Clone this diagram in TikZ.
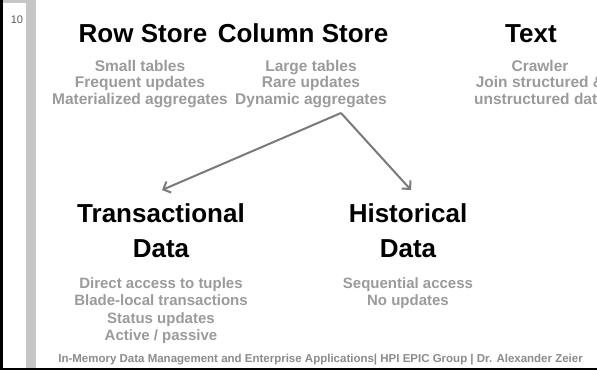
\documentclass[tikz,border=0pt]{standalone}
\usepackage{fontspec}
\setmainfont{Liberation Sans}
\usetikzlibrary{arrows.meta}
\definecolor{subgray}{RGB}{155,155,155}
\definecolor{footgray}{RGB}{140,140,140}
\definecolor{arrowgray}{RGB}{122,122,122}
\definecolor{stripgray}{RGB}{198,198,198}
\definecolor{numgray}{RGB}{90,90,90}
% centred block of lines whose baseline is the first line
\newcommand{\stackedtext}[1]{\begin{tabular}[t]{@{}c@{}}#1\end{tabular}}
\begin{document}
\begin{tikzpicture}[x=1pt,y=-1pt,
  heading/.style={anchor=base,inner sep=0pt,text=black,
    font=\fontsize{26}{35}\selectfont\bfseries},
  detail/.style={anchor=base,inner sep=0pt,text=subgray,
    font=\fontsize{15.5}{16.7}\selectfont\bfseries},
  detaillow/.style={detail,font=\fontsize{15}{17.5}\selectfont\bfseries},
  split/.style={draw=arrowgray,line width=2pt,
    -{Straight Barb[length=6pt,width=12pt,line width=2pt]}}]
\useasboundingbox (0,0) rectangle (597,370);
\clip (0,0) rectangle (597,370);
\fill[white] (0,0) rectangle (597,370);
% slide frame: side strip, left rule and bottom rule
\fill[stripgray] (26,0) rectangle (36,368);
\fill[stripgray] (3,0) rectangle (36,3);
\draw[black,line width=2.5pt] (1.5,0) -- (1.5,370);
\draw[black,line width=2pt] (0,369) -- (597,369);
\node[anchor=base,inner sep=0pt,text=numgray,font=\fontsize{11}{13}\selectfont] (pagenum) at (17,23) {10};
% storage kinds
\node[heading] (row) at (143,42) {Row Store};
\node[heading] (col) at (303,42) {Column Store};
\node[heading] (txt) at (531,42) {Text};
\node[detail] (rowinfo) at (140,71) {\stackedtext{Small tables\\Frequent updates\\Materialized aggregates}};
\node[detail] (colinfo) at (311,71) {\stackedtext{Large tables\\Rare updates\\Dynamic aggregates}};
\node[detail] (txtinfo) at (540,71) {\stackedtext{Crawler\\Join structured \&\\unstructured data}};
% column store split
\coordinate (fork) at (341,113);
\coordinate (transtip) at (162,190);
\coordinate (histtip) at (411,190);
\draw[split] (fork) -- (transtip);
\draw[split] (fork) -- (histtip);
\node[heading] (trans) at (161,222) {\stackedtext{Transactional\\Data}};
\node[heading] (hist) at (408,222) {\stackedtext{Historical\\Data}};
\node[detaillow] (transinfo) at (161,288) {\stackedtext{Direct access to tuples\\Blade-local transactions\\Status updates\\Active / passive}};
\node[detaillow] (histinfo) at (408,288) {\stackedtext{Sequential access\\No updates}};
% footer
\node[anchor=base east,inner sep=0pt,text=footgray,font=\fontsize{11.5}{13}\selectfont\bfseries] (footer) at (583,362)
  {In-Memory Data Management and Enterprise Applications| HPI EPIC Group | Dr. Alexander Zeier};
\end{tikzpicture}
\end{document}
